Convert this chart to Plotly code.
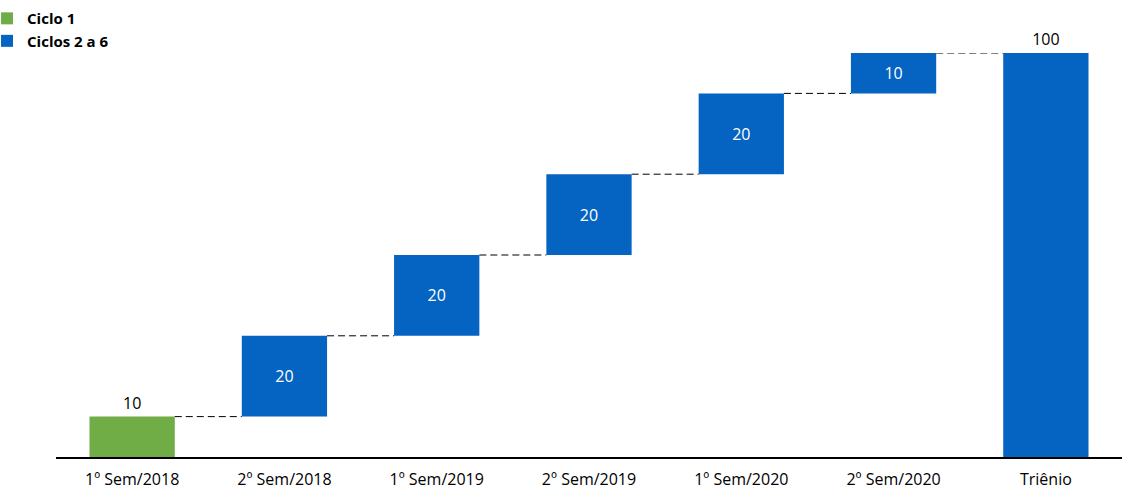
import plotly.graph_objects as go

categories = ["1º Sem/2018", "2º Sem/2018", "1º Sem/2019", "2º Sem/2019",
              "1º Sem/2020", "2º Sem/2020", "Triênio"]
values = [10, 20, 20, 20, 20, 10, 100]
is_total = [False, False, False, False, False, False, True]
series_names = ["Ciclo 1", "Ciclos 2 a 6"]
colors = ["#70AD47", "#0563C1"]

FONT = "'Open Sans', 'Noto Sans', sans-serif"
W = 0.56

# cumulative bases
bases = []
cum = 0
for v, t in zip(values, is_total):
    if t:
        bases.append(0)
    else:
        bases.append(cum)
        cum += v
tops = [b + v for b, v in zip(bases, values)]

xs = list(range(len(categories)))

fig = go.Figure()

fig.add_trace(go.Bar(
    x=[xs[0]], y=[values[0]], base=[bases[0]], width=W,
    name=series_names[0], marker_color=colors[0], marker_line_width=0,
    text=[str(values[0])], textposition="outside",
    textfont=dict(color="black", size=16, family=FONT),
    cliponaxis=False, hoverinfo="skip", legendgroup="a",
))

pos = ["outside" if t else "inside" for t in is_total[1:]]
tcol = ["black" if t else "white" for t in is_total[1:]]
fig.add_trace(go.Bar(
    x=xs[1:], y=values[1:], base=bases[1:], width=W,
    name=series_names[1], marker_color=colors[1], marker_line_width=0,
    text=[str(v) for v in values[1:]], textposition=pos,
    insidetextanchor="middle", constraintext="none",
    textfont=dict(color=tcol, size=16, family=FONT),
    cliponaxis=False, hoverinfo="skip", legendgroup="b",
))

for i in range(len(values) - 1):
    level = tops[i]
    fig.add_trace(go.Scatter(
        x=[xs[i] + W / 2, xs[i + 1] - W / 2], y=[level, level],
        mode="lines", line=dict(color="black", width=1, dash="7px,4px"),
        showlegend=False, hoverinfo="skip",
    ))

fig.update_layout(
    width=1142, height=501,
    margin=dict(l=56, r=20, t=53, b=44, autoexpand=False),
    paper_bgcolor="white", plot_bgcolor="white",
    font=dict(family=FONT, size=16, color="black"),
    barmode="overlay",
    uniformtext=dict(mode=False),
    showlegend=True,
    legend=dict(
        x=-0.0647, y=1.126, xanchor="left", yanchor="top",
        font=dict(family=FONT, size=15, color="black", weight="bold"),
        itemwidth=30, tracegroupgap=6, bgcolor="rgba(0,0,0,0)",
        traceorder="normal",
    ),
    xaxis=dict(
        range=[-0.5, len(categories) - 0.5],
        tickmode="array", tickvals=xs, ticktext=categories,
        showgrid=False, zeroline=False, showline=True,
        linecolor="black", linewidth=1.5, ticks="",
        ticklabelstandoff=7,
        tickfont=dict(family=FONT, size=16, color="black"),
    ),
    yaxis=dict(
        range=[0, 100], visible=False, showgrid=False, zeroline=False,
    ),
)

fig.write_html("out.html", config={"displayModeBar": False},
               post_script="document.body.style.margin='0px';")
